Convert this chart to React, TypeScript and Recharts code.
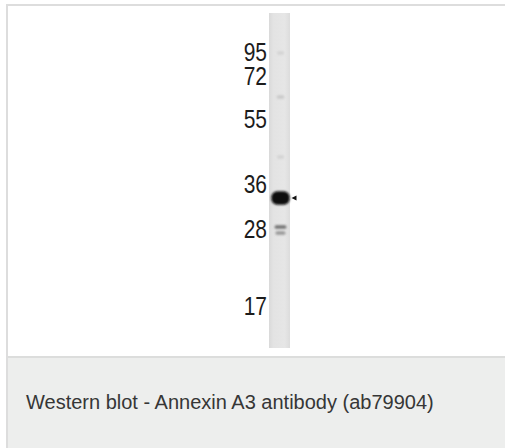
import React from "react";
import { ComposedChart, XAxis, YAxis, Scatter, ReferenceArea, ReferenceDot } from "recharts";

// Molecular-weight markers (kDa) and their migration distance from the top of the lane (px units of the blot)
const markerLabels = ["95", "72", "55", "36", "28", "17"];
const markerMobility = [39, 63, 106, 171, 216, 293];

// Detected bands: migration distance and relative intensity (0..1)
const bandMobility = [185, 214, 220, 84, 144, 40];
const bandIntensity = [1, 0.45, 0.3, 0.1, 0.06, 0.06];

const caption = "Western blot - Annexin A3 antibody (ab79904)";
const targetBandIndex = 0;

const LANE_LENGTH = 335;
const W = 505;
const H = 448;
const Y_AXIS_W = 40;
const MARGIN = { top: 13, right: 215, bottom: 100, left: 229 };
const LANE_W = W - MARGIN.left - Y_AXIS_W - MARGIN.right;

const bands = bandMobility.map((m, i) => ({ lane: 0.5, mobility: m, intensity: bandIntensity[i] }));

const BandShape = (props: any) => {
  const { cx, cy, payload } = props;
  if (cx == null || cy == null) return null;
  const k = payload.intensity;
  const w = LANE_W * (0.3 + 0.58 * k);
  const h = k > 0.8 ? 13.5 : 3.4;
  const g = Math.round(226 - 216 * Math.min(1, k * 1.15));
  const col = `rgb(${g},${g},${g})`;
  return (
    <g filter="url(#bandBlur)">
      <rect x={cx - w / 2 + 1} y={cy - h / 2} width={w} height={h} rx={h / 2.2} ry={h / 2.2} fill={col} />
    </g>
  );
};

const ArrowShape = (props: any) => {
  const { cx, cy } = props;
  if (cx == null || cy == null) return null;
  const x0 = cx + 1.5;
  return <path d={`M${x0},${cy} L${x0 + 5},${cy - 2.5} L${x0 + 5},${cy + 2.5} Z`} fill="#111" />;
};

const MarkerTick = (props: any) => {
  const { x, y, index } = props;
  return (
    <g transform={`translate(${x},${y}) scale(0.84,1)`}>
      <text
        x={0}
        y={0}
        dy={9}
        textAnchor="end"
        fontFamily="'Liberation Sans', Arial, sans-serif"
        fontSize={25}
        fill="#1c1c1c"
      >
        {markerLabels[index]}
      </text>
    </g>
  );
};

export default function App() {
  return (
    <div style={{ position: "absolute", left: 0, top: 0, width: W, height: H, background: "#ffffff", overflow: "hidden" }}>
      {/* frame */}
      <div style={{ position: "absolute", left: 6, top: 4, width: W - 6, height: 2, background: "#dddddd" }} />
      <div style={{ position: "absolute", left: 6, top: 4, width: 2, height: H - 4, background: "#dddddd" }} />
      <div style={{ position: "absolute", left: 8, top: 356, width: W - 8, height: 2, background: "#dcdddc" }} />
      <div
        style={{
          position: "absolute",
          left: 8,
          top: 358,
          width: W - 8,
          height: H - 358,
          background: "#edeeed",
        }}
      />
      <div
        style={{
          position: "absolute",
          left: 26,
          top: 391,
          fontFamily: "'Liberation Sans', Arial, sans-serif",
          fontSize: 20,
          lineHeight: "23px",
          color: "#363636",
          whiteSpace: "nowrap",
        }}
      >
        {caption}
      </div>
      <div style={{ position: "absolute", left: 0, top: 0 }}>
        <ComposedChart width={W} height={H} data={bands} margin={MARGIN}>
          <defs>
            <linearGradient id="laneGrad" x1="0" y1="0" x2="1" y2="0">
              <stop offset="0%" stopColor="#d9d9d9" />
              <stop offset="20%" stopColor="#e3e3e3" />
              <stop offset="75%" stopColor="#e6e6e6" />
              <stop offset="100%" stopColor="#dcdcdc" />
            </linearGradient>
            <filter id="bandBlur" x="-50%" y="-100%" width="200%" height="300%">
              <feGaussianBlur stdDeviation="1" />
            </filter>
          </defs>
          <XAxis type="number" dataKey="lane" domain={[0, 1]} hide />
          <YAxis
            type="number"
            dataKey="mobility"
            domain={[0, LANE_LENGTH]}
            reversed
            ticks={markerMobility}
            interval={0}
            width={Y_AXIS_W}
            axisLine={false}
            tickLine={false}
            tickSize={0}
            tickMargin={2}
            tick={<MarkerTick />}
            allowDataOverflow
          />
          <ReferenceArea x1={0} y1={0} x2={1} y2={LANE_LENGTH} fill="url(#laneGrad)" fillOpacity={1} stroke="none" />
          <Scatter data={bands} dataKey="mobility" shape={<BandShape />} isAnimationActive={false} />
          <ReferenceDot
            x={1}
            y={bandMobility[targetBandIndex]}
            r={3}
            shape={<ArrowShape />}
            ifOverflow="visible"
          />
        </ComposedChart>
      </div>
    </div>
  );
}
